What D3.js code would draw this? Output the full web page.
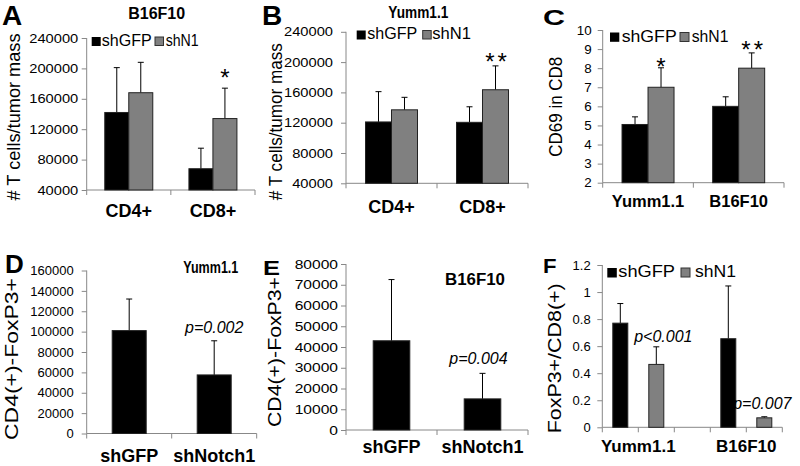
<!DOCTYPE html>
<html><head><meta charset="utf-8">
<script src="https://cdn.jsdelivr.net/npm/d3@7"></script>
<style>body{margin:0;background:#fff}svg{display:block}</style>
</head><body><svg id="c" width="800" height="466"></svg>
<script>
// ---------------- DATA ----------------
const seriesNames = ["shGFP", "shN1"];

const aCategories = ["CD4+", "CD8+"];
const aShGFP = [142000, 68000];
const aShGFPErr = [59000, 27000];
const aShN1 = [168000, 134000];
const aShN1Err = [40000, 40000];
const aStars = ["", "*"];
const aTicks = [40000, 80000, 120000, 160000, 200000, 240000];

const bCategories = ["CD4+", "CD8+"];
const bShGFP = [121000, 120500];
const bShGFPErr = [40000, 20500];
const bShN1 = [137000, 163500];
const bShN1Err = [16500, 31500];
const bStars = ["", "**"];
const bTicks = [40000, 80000, 120000, 160000, 200000, 240000];

const cCategories = ["Yumm1.1", "B16F10"];
const cShGFP = [5.05, 6.0];
const cShGFPErr = [0.4, 0.5];
const cShN1 = [7.0, 8.0];
const cShN1Err = [1.02, 0.8];
const cStars = ["*", "**"];
const cTicks = [2, 3, 4, 5, 6, 7, 8, 9, 10];

const dCategories = ["shGFP", "shNotch1"];
const dValues = [101000, 57500];
const dErr = [31000, 33500];
const dPvals = ["", "p=0.002"];
const dTicks = [0, 20000, 40000, 60000, 80000, 100000, 120000, 140000, 160000];

const eCategories = ["shGFP", "shNotch1"];
const eValues = [43000, 15000];
const eErr = [29500, 12300];
const ePvals = ["", "p=0.004"];
const eTicks = [0, 10000, 20000, 30000, 40000, 50000, 60000, 70000, 80000];

const fCategories = ["Yumm1.1", "B16F10"];
const fShGFP = [0.77, 0.655];
const fShGFPErr = [0.145, 0.39];
const fShN1 = [0.465, 0.07];
const fShN1Err = [0.13, 0.008];
const fPvals = ["p<0.001", "p=0.007"];
const fTicks = [0, 0.2, 0.4, 0.6, 0.8, 1, 1.2];

// ---------------- DRAWING ----------------
const FONT = '"Liberation Sans", Arial, Helvetica, sans-serif';
const BLACK = "#000000", GRAY = "#808080", AXIS = "#888888";
const svg = d3.select("#c").attr("font-family", FONT);

function addText(g, str, x, y, o) {
  const t = g.append("text").text(str)
    .attr("font-size", o.size || 14)
    .attr("font-weight", o.bold ? "bold" : "normal")
    .attr("font-style", o.italic ? "italic" : "normal")
    .attr("text-anchor", o.anchor || "start")
    .attr("fill", "#000");
  if (o.rotate) t.attr("transform", `translate(${x},${y}) rotate(-90)`);
  else t.attr("x", x).attr("y", y);
  if (o.len) t.attr("textLength", o.len).attr("lengthAdjust", "spacingAndGlyphs");
  if (o.spacing) t.attr("letter-spacing", o.spacing);
  return t;
}

function panel(L, D) {
  const g = svg.append("g");
  const y = d3.scaleLinear().domain(L.yDomain).range([L.yBottom, L.yTop]);
  const slots = L.slots || D.categories;
  const x = d3.scaleBand().domain(slots).range([L.x0, L.x1]).padding(0);
  const bw = x.bandwidth();

  // y axis
  const tickSize = 5;
  const pad = L.tickGap / L.tickSx - tickSize;
  const ax = d3.axisLeft(y).tickValues(D.ticks).tickSize(tickSize).tickSizeOuter(0)
    .tickPadding(pad).tickFormat(D.tickFormat || d3.format("d"));
  const ga = g.append("g").attr("transform", `translate(${L.x0},0)`).call(ax)
    .attr("font-family", FONT);
  ga.select(".domain").attr("stroke", AXIS).attr("d", `M0,${L.yBottom}V${L.yTop}`);
  ga.selectAll(".tick line").attr("stroke", AXIS);
  ga.selectAll(".tick text").attr("font-size", 13).attr("fill", "#000")
    .attr("transform", `scale(${L.tickSx},1)`);

  // x axis
  g.append("line").attr("x1", L.x0).attr("x2", L.x1).attr("y1", L.yBottom).attr("y2", L.yBottom)
    .attr("stroke", AXIS);
  const bounds = slots.map(s => x(s)).concat([L.x1]);
  g.selectAll("line.xt").data(bounds).join("line").attr("class", "xt")
    .attr("x1", d => d).attr("x2", d => d).attr("y1", L.yBottom).attr("y2", L.yBottom + 5)
    .attr("stroke", AXIS);

  // bars
  const n = D.series.length;
  D.series.forEach((s, si) => {
    s.values.forEach((v, ci) => {
      let bx;
      if (L.slots) {
        const key = D.categories[ci] + "|" + s.name;
        bx = x(key) + (bw - L.barW) / 2;
      } else {
        const c = x(D.categories[ci]) + bw / 2;
        bx = c - n * L.barW / 2 + si * L.barW;
      }
      const cx = bx + L.barW / 2;
      const top = y(v), etop = y(v + s.errs[ci]);
      g.append("line").attr("x1", cx).attr("x2", cx).attr("y1", top).attr("y2", etop)
        .attr("stroke", "#000").attr("stroke-width", 1);
      g.append("line").attr("x1", cx - 3).attr("x2", cx + 3).attr("y1", etop).attr("y2", etop)
        .attr("stroke", "#000").attr("stroke-width", 1);
      g.append("rect").attr("x", bx).attr("y", top).attr("width", L.barW)
        .attr("height", L.yBottom - top).attr("fill", s.color)
        .attr("stroke", "#222").attr("stroke-width", 1);
      const ann = s.ann ? s.ann[ci] : "";
      if (ann) {
        if (ann.startsWith("p")) {
          addText(g, ann, cx + (L.pDx ? L.pDx[ci] : 0), etop - L.pOff[ci], { size: 16, italic: true, anchor: "middle" });
        } else {
          addText(g, ann, cx + (ann.length > 1 ? 2 : 0), etop - L.starOff[ci], { size: 24, anchor: "middle", spacing: ann.length > 1 ? 3 : 0 });
        }
      }
    });
  });

  // category labels
  D.categories.forEach((c, ci) => {
    let cx;
    if (L.slots) cx = x(c + "|" + D.series[0].name) + bw;
    else cx = x(c) + bw / 2;
    addText(g, c, cx, L.catY, { size: L.catSize, bold: true, anchor: "middle" });
  });

  // y label
  addText(g, L.yLabel, L.yLabX, L.yLabY, { size: 18, rotate: true, anchor: "middle", len: L.yLabLen });

  // letter
  addText(g, L.letter, L.letterX, L.letterY, { size: L.letterSize, bold: true, len: L.letterLen });

  // title
  if (L.title) addText(g, L.title, L.titleX, L.titleY, { size: 16, bold: true, anchor: "middle", len: L.titleLen });

  // legend
  if (L.legend) {
    L.legend.items.forEach((it, i) => {
      g.append("rect").attr("x", it.sx).attr("y", L.legend.sy).attr("width", it.ss).attr("height", it.ss)
        .attr("fill", D.series[i].color).attr("stroke", i ? "#333" : "none").attr("stroke-width", 1);
      addText(g, D.series[i].name, it.tx, L.legend.base, { size: 16, len: it.len });
    });
  }
}

// Panel A
panel({
  x0: 86.7, x1: 255, yBottom: 190, yTop: 38, yDomain: [40000, 240000], barW: 24,
  tickSx: 1.13, tickGap: 8.5, catY: 216.7, catSize: 18, starOff: [0, 2],
  yLabel: "# T cells/tumor mass", yLabX: 20, yLabY: 117, yLabLen: 167,
  letter: "A", letterX: 2, letterY: 25, letterSize: 28,
  title: "B16F10", titleX: 156.7, titleY: 19.3, titleLen: 57,
  legend: { sy: 37, base: 46, items: [{ sx: 91.7, ss: 9, tx: 101.7, len: 50 }, { sx: 155, ss: 8.5, tx: 165.7, len: 33 }] }
}, {
  categories: aCategories, ticks: aTicks,
  series: [{ name: seriesNames[0], values: aShGFP, errs: aShGFPErr, color: BLACK },
           { name: seriesNames[1], values: aShN1, errs: aShN1Err, color: GRAY, ann: aStars }]
});

// Panel B
panel({
  x0: 346, x1: 528, yBottom: 183.3, yTop: 31.8, yDomain: [40000, 240000], barW: 26,
  tickSx: 1.13, tickGap: 13, catY: 213, catSize: 18, starOff: [0, -4.5],
  yLabel: "# T cells/tumor mass", yLabX: 282, yLabY: 121.7, yLabLen: 157,
  letter: "B", letterX: 262, letterY: 25, letterSize: 28,
  title: "Yumm1.1", titleX: 418.3, titleY: 18.3, titleLen: 60,
  legend: { sy: 30.5, base: 39.3, items: [{ sx: 356.7, ss: 9, tx: 367.3, len: 50 }, { sx: 422.7, ss: 8.5, tx: 432.3, len: 38.7 }] }
}, {
  categories: bCategories, ticks: bTicks,
  series: [{ name: seriesNames[0], values: bShGFP, errs: bShGFPErr, color: BLACK },
           { name: seriesNames[1], values: bShN1, errs: bShN1Err, color: GRAY, ann: bStars }]
});

// Panel C
panel({
  x0: 602.7, x1: 784, yBottom: 182.7, yTop: 30, yDomain: [2, 10], barW: 26,
  tickSx: 1.03, tickGap: 11, catY: 207, catSize: 16.5, starOff: [-7.5, -5.5],
  yLabel: "CD69 in CD8", yLabX: 562, yLabY: 106.7, yLabLen: 100,
  letter: "C", letterX: 543, letterY: 25, letterSize: 22, letterLen: 22,
  legend: { sy: 32.5, base: 41.7, items: [{ sx: 610, ss: 9.3, tx: 621.7, len: 55 }, { sx: 680, ss: 9, tx: 691.7, len: 36.7 }] }
}, {
  categories: cCategories, ticks: cTicks,
  series: [{ name: seriesNames[0], values: cShGFP, errs: cShGFPErr, color: BLACK },
           { name: seriesNames[1], values: cShN1, errs: cShN1Err, color: GRAY, ann: cStars }]
});

// Panel D
panel({
  x0: 86.7, x1: 256.7, yBottom: 433.5, yTop: 270.5, yDomain: [0, 160000], barW: 34,
  tickSx: 1.0, tickGap: 13, catY: 461.7, catSize: 18, pOff: [0, 8],
  yLabel: "CD4(+)-FoxP3+", yLabX: 18, yLabY: 359, yLabLen: 162,
  letter: "D", letterX: 5, letterY: 273, letterSize: 26,
  title: "Yumm1.1", titleX: 210.8, titleY: 273.3, titleLen: 55
}, {
  categories: dCategories, ticks: dTicks,
  series: [{ name: "shGFP", values: dValues, errs: dErr, color: BLACK, ann: dPvals }]
});

// Panel E
panel({
  x0: 346, x1: 528, yBottom: 430, yTop: 264, yDomain: [0, 80000], barW: 36.6,
  tickSx: 1.2, tickGap: 8, catY: 453, catSize: 18, pOff: [0, 9], pDx: [0, -4],
  yLabel: "CD4(+)-FoxP3+", yLabX: 281, yLabY: 352, yLabLen: 150,
  letter: "E", letterX: 263, letterY: 275, letterSize: 21, letterLen: 17,
  title: "B16F10", titleX: 475, titleY: 285, titleLen: 60
}, {
  categories: eCategories, ticks: eTicks,
  series: [{ name: "shGFP", values: eValues, errs: eErr, color: BLACK, ann: ePvals }]
});

// Panel F
const fSlots = [fCategories[0] + "|" + seriesNames[0], fCategories[0] + "|" + seriesNames[1], "gap",
                fCategories[1] + "|" + seriesNames[0], fCategories[1] + "|" + seriesNames[1]];
panel({
  x0: 602.3, x1: 782.3, yBottom: 427.3, yTop: 265, yDomain: [0, 1.2], barW: 15, slots: fSlots,
  tickSx: 1.0, tickGap: 11.7, catY: 451.7, catSize: 17, pOff: [5, 8], pDx: [7, -2],
  yLabel: "FoxP3+/CD8(+)", yLabX: 561, yLabY: 358.3, yLabLen: 150,
  letter: "F", letterX: 543, letterY: 273, letterSize: 21, letterLen: 13.5,
  legend: { sy: 268, base: 276.7, items: [{ sx: 607.3, ss: 9.5, tx: 618.3, len: 56.7 }, { sx: 681, ss: 9, tx: 695, len: 41 }] }
}, {
  categories: fCategories, ticks: fTicks, tickFormat: d => String(d),
  series: [{ name: seriesNames[0], values: fShGFP, errs: fShGFPErr, color: BLACK },
           { name: seriesNames[1], values: fShN1, errs: fShN1Err, color: GRAY, ann: fPvals }]
});
</script></body></html>
